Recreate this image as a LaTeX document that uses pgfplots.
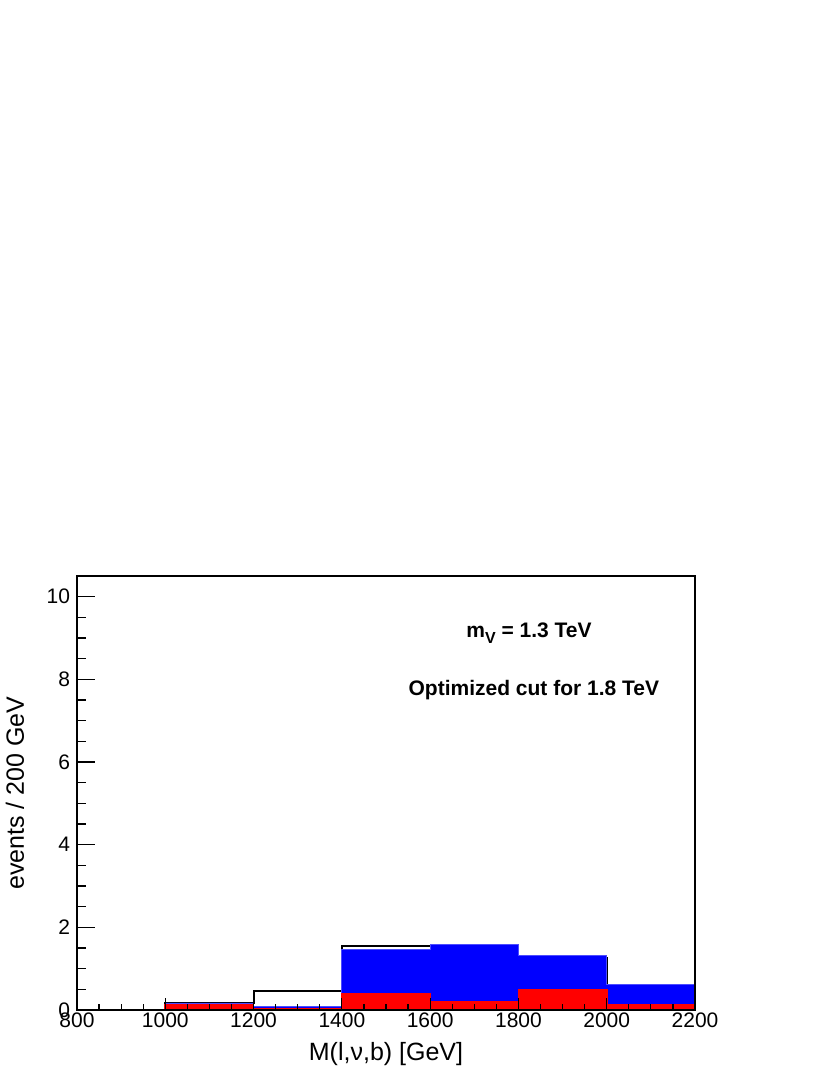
\documentclass[border=0pt]{standalone}
\usepackage{fontspec}
\setmainfont{Liberation Sans}
\usepackage{pgfplots}
\pgfplotsset{compat=1.18}
\definecolor{rblue}{RGB}{0,0,255}
\definecolor{rred}{RGB}{255,0,0}
\pgfplotsset{
  frame/.style={
    at={(38.5pt,34.5pt)}, anchor=south west, scale only axis,
    width=309pt, height=217pt,
    xmin=800, xmax=2200, ymin=0, ymax=10.5,
    tick align=inside, xtick pos=bottom, ytick pos=left,
    axis line style={line width=0.75pt}, tick style={line width=0.6pt,black},
    /pgf/number format/assume math mode=true,
    /pgf/number format/set thousands separator={},
    tick label style={font=\fontsize{10.5}{12}\selectfont},
    label style={font=\fontsize{12.5}{14}\selectfont},
  },
}
\begin{document}
\begin{tikzpicture}
\useasboundingbox (0pt,0pt) rectangle (417pt,539.5pt);
% main axis: data and x ticks
\begin{axis}[
  frame,
  xtick={800,1000,...,2200}, minor x tick num=3,
  ytick=\empty,
  major tick length=6pt, minor tick length=3pt,
  xticklabel style={anchor=base, yshift=-9pt},
  xlabel={M(l,ν,b) [GeV]},
  xlabel style={at={(rel axis cs:0.5,0)}, anchor=base, yshift=-25pt},
  axis on top,
]
% total (outline)
\addplot[const plot mark left, black, line width=1pt] coordinates {
  (800,0)(1000,0.17)(1200,0.45)(1400,1.54)(1600,1.55)(1800,1.25)(2000,0.55)(2200,0.55)};
% blue component
\addplot[const plot mark left, fill=rblue, draw=rblue!70!white, line width=0.4pt] coordinates {
  (800,0)(1000,0.17)(1200,0.075)(1400,1.46)(1600,1.59)(1800,1.31)(2000,0.62)(2200,0.62)} \closedcycle;
% red component
\addplot[const plot mark left, fill=rred, draw=rred, line width=0.8pt] coordinates {
  (800,0.005)(1000,0.12)(1200,0.03)(1400,0.40)(1600,0.20)(1800,0.49)(2000,0.13)(2200,0.13)} \closedcycle;
\node[font=\fontsize{10.5}{12}\selectfont\bfseries] at (axis cs:1824,9.12)
  {m\raisebox{-0.5ex}{\fontsize{8}{9}\selectfont\bfseries V} = 1.3 TeV};
\node[font=\fontsize{10.5}{12}\selectfont\bfseries] at (axis cs:1835,7.73)
  {Optimized cut for 1.8 TeV};
\end{axis}
% second axis: y ticks (longer, as in the original)
\begin{axis}[
  frame,
  hide x axis,
  ytick={0,2,...,10}, minor y tick num=3,
  major tick length=9pt, minor tick length=4.5pt,
  ylabel={events / 200 GeV},
  ylabel style={at={(rel axis cs:0,0.5)}, anchor=base, yshift=26.5pt},
]
\end{axis}
\end{tikzpicture}
\end{document}
